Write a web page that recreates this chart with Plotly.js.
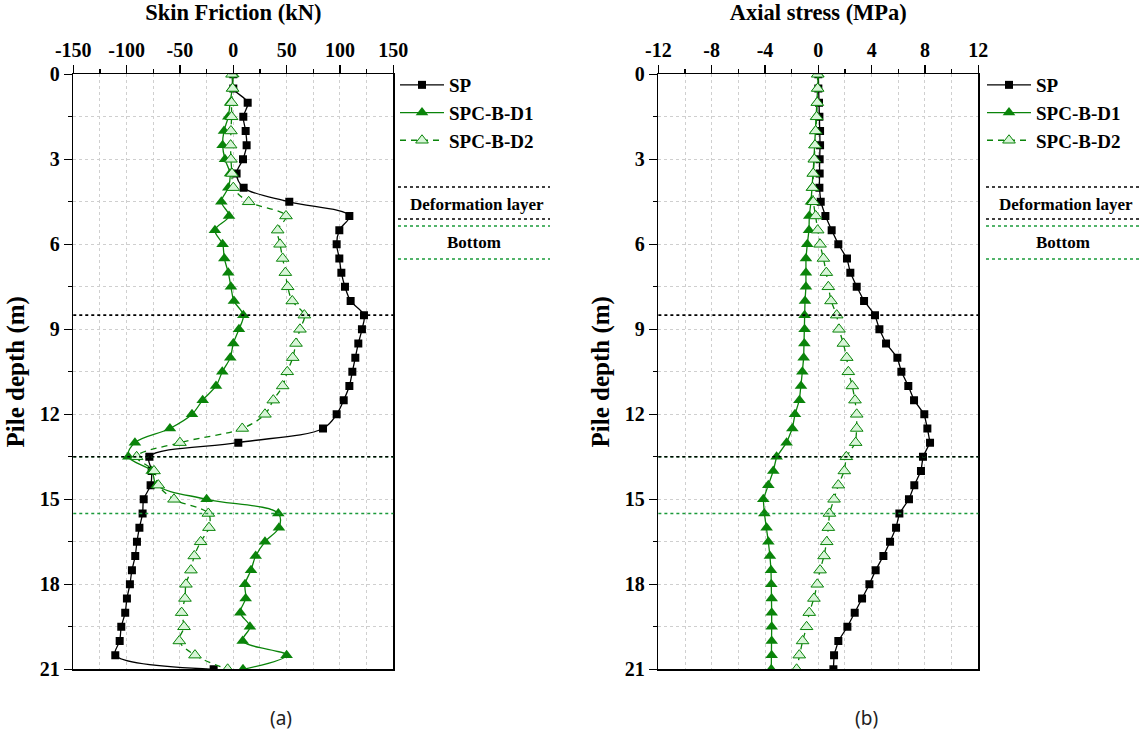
<!DOCTYPE html>
<html>
<head>
<meta charset="utf-8">
<script src="https://cdn.plot.ly/plotly-3.0.1.min.js"></script>
<style>html,body{margin:0;padding:0;background:#fff}#chart{width:1143px;height:735px}</style>
</head>
<body>
<div id="chart"></div>
<script>
// ---- data ----
const depth = [0,0.5,1,1.5,2,2.5,3,3.5,4,4.5,5,5.5,6,6.5,7,7.5,8,8.5,9,9.5,10,10.5,11,11.5,12,12.5,13,13.5,14,14.5,15,15.5,16,16.5,17,17.5,18,18.5,19,19.5,20,20.5,21];
const seriesNames = ["SP","SPC-B-D1","SPC-B-D2"];

// Skin friction (kN)
const frictionSP = [0,0,13.5,9.4,11.6,12.5,9.1,3.1,9.7,52.5,108.8,99.4,96.9,99.4,101.3,104.7,110.0,122.5,120.6,117.2,114.4,111.6,108.8,103.5,96.9,84.1,4.7,-78.7,-76.5,-77.5,-84.0,-85.0,-88.0,-90.3,-91.9,-95.0,-96.9,-99.7,-101.3,-105.0,-106.5,-110.6,-18.4];
const frictionD1 = [0,-1,-3,-4.7,-8.7,-10,-7.8,-3,-4.7,-11.2,-4,-17.2,-10,-8.4,-4.7,-2.2,0.6,9.4,5.3,0,-2.8,-10.3,-16.2,-28.7,-38.7,-59.4,-92.2,-98.4,-76.5,-71.8,-25,42.2,42.8,29.7,21,16.6,11,11.6,6.6,15.6,8.8,50,9.1];
const frictionD2 = [-1.2,-0.6,-1.6,-1.6,-2.2,-2.5,-2.2,-1.2,0,14.4,49.4,41.6,43.8,46.3,48.8,51,55.3,66.6,62.5,58.8,55.7,50.6,46.3,37.5,29.7,8.4,-50,-90.6,-74.3,-70.3,-55.6,-23.4,-22.8,-30.6,-36.6,-39.7,-44.4,-45.3,-48.4,-46.2,-50.6,-35.9,-5.3];

// Axial stress (MPa)
const stressSP = [0,0,0.05,0.08,0.13,0.13,0.1,0.1,0.08,0.18,0.53,1.0,1.5,2.15,2.4,2.88,3.43,4.25,4.58,5.08,5.93,6.23,6.75,7.18,7.95,8.18,8.38,7.85,7.7,7.2,6.8,6.08,5.83,5.38,4.88,4.3,3.83,3.28,2.73,2.18,1.5,1.18,1.13];
const stressD1 = [0,-0.05,-0.08,-0.15,-0.22,-0.28,-0.33,-0.4,-0.47,-0.55,-0.68,-0.7,-0.83,-0.93,-0.93,-0.93,-1.0,-1.03,-1.03,-1.05,-1.1,-1.2,-1.3,-1.42,-1.75,-1.95,-2.38,-3.13,-3.38,-3.75,-4.13,-4.05,-3.88,-3.75,-3.63,-3.55,-3.53,-3.5,-3.5,-3.5,-3.5,-3.5,-3.53];
const stressD2 = [-0.05,-0.05,-0.08,-0.13,-0.2,-0.25,-0.3,-0.38,-0.43,-0.38,-0.2,-0.05,0.13,0.38,0.6,0.75,0.95,1.38,1.55,1.88,2.13,2.25,2.55,2.75,2.88,2.88,2.8,2.1,1.95,1.5,1.18,0.83,0.75,0.63,0.43,0.13,-0.08,-0.33,-0.68,-0.88,-1.18,-1.43,-1.63];

// tick labels
const frictionTicks = [-150,-100,-50,0,50,100,150];
const frictionTickText = ["-150","-100","-50","0","50","100","150"];
const stressTicks = [-12,-8,-4,0,4,8,12];
const stressTickText = ["-12","-8","-4","0","4","8","12"];
const depthTicks = [0,3,6,9,12,15,18,21];
const depthTickText = ["0","3","6","9","12","15","18","21"];

// layer boundaries (m)
const deformationLayer = [8.5, 13.5];
const bottomLayer = [13.5, 15.5];
const layerLabels = ["Deformation layer","Bottom"];
const panelLabels = ["(a)","(b)"];

// ---- styling ----
const SERIF = "Liberation Serif, Times New Roman, serif";
const GREEN = "#0a840a";
const LIGHT = "#d8f5d8";
const GRID = "#cfcfcf";
const LAYERGREEN = "#1a9a3a";

function traces(xs, xa, ya, leg, shape) {
  return [
    {x: xs[0], y: depth, xaxis: xa, yaxis: ya, legend: leg, name: seriesNames[0], mode: "lines+markers",
     line: {color: "#000", width: 1.3, shape: shape, smoothing: 1},
     marker: {symbol: "square", size: 8, color: "#000"}},
    {x: xs[1], y: depth, xaxis: xa, yaxis: ya, legend: leg, name: seriesNames[1], mode: "lines+markers",
     line: {color: GREEN, width: 1.3, shape: shape, smoothing: 1},
     marker: {symbol: "triangle-up", size: 11, color: GREEN}},
    {x: xs[2], y: depth, xaxis: xa, yaxis: ya, legend: leg, name: seriesNames[2], mode: "lines+markers",
     line: {color: GREEN, width: 1.3, shape: shape, smoothing: 1, dash: "6px,5px"},
     marker: {symbol: "triangle-up", size: 11, color: LIGHT, line: {color: GREEN, width: 1}}}
  ];
}

const data = [
  ...traces([frictionSP, frictionD1, frictionD2], "x", "y", "legend", "spline"),
  ...traces([stressSP, stressD1, stressD2], "x2", "y2", "legend2", "linear")
];

const tickFont = {family: SERIF, size: 20, color: "#000", weight: "bold"};
const titleFont = {family: SERIF, size: 22.5, color: "#000", weight: "bold"};

function xaxis(domain, range, tv, tt, minorD, title, anchor) {
  return {
    domain: domain, range: range, side: "top", anchor: anchor,
    tickvals: tv, ticktext: tt, tickfont: tickFont,
    ticks: "outside", ticklen: 8, tickwidth: 1.2, tickcolor: "#000",
    showline: true, linecolor: "#000", linewidth: 1.5, mirror: true,
    showgrid: true, gridcolor: GRID, griddash: "dot", gridwidth: 1,
    zeroline: false,
    minor: {dtick: minorD, tick0: 0, ticks: "outside", ticklen: 4, tickcolor: "#000", showgrid: true, gridcolor: GRID, griddash: "dot"},
    title: {text: title, font: titleFont, standoff: 12}
  };
}
function yaxis(anchor) {
  return {
    domain: [0.0894, 0.8989], range: [21, 0], anchor: anchor,
    tickvals: depthTicks, ticktext: depthTickText, tickfont: tickFont,
    ticks: "outside", ticklen: 8, tickwidth: 1.2, tickcolor: "#000",
    showline: true, linecolor: "#000", linewidth: 1.5, mirror: true,
    showgrid: true, gridcolor: GRID, griddash: "dot", gridwidth: 1,
    zeroline: false,
    minor: {dtick: 1.5, tick0: 0, ticks: "outside", ticklen: 4, tickcolor: "#000", showgrid: true, gridcolor: GRID, griddash: "dot"},
    title: {text: "Pile depth (m)", font: {family: SERIF, size: 25, color: "#000", weight: "bold"}, standoff: 8}
  };
}

// horizontal layer lines in each panel (green first, black on top)
const shapes = [];
[["x","y"],["x2","y2"]].forEach(([xa, ya]) => {
  bottomLayer.forEach(d => shapes.push({type: "line", xref: xa + " domain", yref: ya, x0: 0, x1: 1, y0: d, y1: d,
    line: {color: LAYERGREEN, width: 1.6, dash: "dot"}}));
  deformationLayer.forEach(d => shapes.push({type: "line", xref: xa + " domain", yref: ya, x0: 0, x1: 1, y0: d, y1: d,
    line: {color: "#000", width: 1.6, dash: "dot"}}));
});

// layer legend blocks (paper coordinates)
const annotations = [];
function py(px) { return 1 - px / 735; }
[[398, 550], [986, 1140]].forEach(([x0p, x1p]) => {
  const x0 = x0p / 1143, x1 = x1p / 1143, xc = (x0 + x1) / 2;
  [[187, "#000"], [219, "#000"], [226, LAYERGREEN], [259, LAYERGREEN]].forEach(([yy, c]) =>
    shapes.push({type: "line", xref: "paper", yref: "paper", x0: x0, x1: x1, y0: py(yy), y1: py(yy),
      line: {color: c, width: 1.4, dash: "dot"}}));
  annotations.push({xref: "paper", yref: "paper", x: xc + 3 / 1143, y: py(204), text: layerLabels[0], showarrow: false,
    font: {family: SERIF, size: 17, color: "#000", weight: "bold"}, xanchor: "center", yanchor: "middle"});
  annotations.push({xref: "paper", yref: "paper", x: xc, y: py(243), text: layerLabels[1], showarrow: false,
    font: {family: SERIF, size: 17, color: "#000", weight: "bold"}, xanchor: "center", yanchor: "middle"});
});
annotations.push({xref: "paper", yref: "paper", x: 281 / 1143, y: py(718), text: panelLabels[0], showarrow: false,
  font: {family: "Noto Sans, DejaVu Sans, sans-serif", size: 19, color: "#222"}, xanchor: "center", yanchor: "middle"});
annotations.push({xref: "paper", yref: "paper", x: 866 / 1143, y: py(718), text: panelLabels[1], showarrow: false,
  font: {family: "Noto Sans, DejaVu Sans, sans-serif", size: 19, color: "#222"}, xanchor: "center", yanchor: "middle"});

const legendFont = {family: SERIF, size: 19, color: "#000", weight: "bold"};
const layout = {
  width: 1143, height: 735,
  margin: {l: 0, r: 0, t: 0, b: 0},
  paper_bgcolor: "#fff", plot_bgcolor: "#fff",
  xaxis: xaxis([0.0641, 0.3441], [-150, 150], frictionTicks, frictionTickText, 25, "Skin Friction (kN)", "y"),
  yaxis: yaxis("x"),
  xaxis2: xaxis([0.5760, 0.8559], [-12, 12], stressTicks, stressTickText, 2, "Axial stress (MPa)", "y2"),
  yaxis2: yaxis("x2"),
  legend: {x: 395 / 1143, y: py(66), xanchor: "left", yanchor: "top", font: legendFont, bgcolor: "rgba(0,0,0,0)",
    itemwidth: 44, tracegroupgap: 0},
  legend2: {x: 982 / 1143, y: py(66), xanchor: "left", yanchor: "top", font: legendFont, bgcolor: "rgba(0,0,0,0)",
    itemwidth: 44, tracegroupgap: 0},
  shapes: shapes,
  annotations: annotations
};

Plotly.newPlot("chart", data, layout, {displayModeBar: false, staticPlot: true});
</script>
</body>
</html>
